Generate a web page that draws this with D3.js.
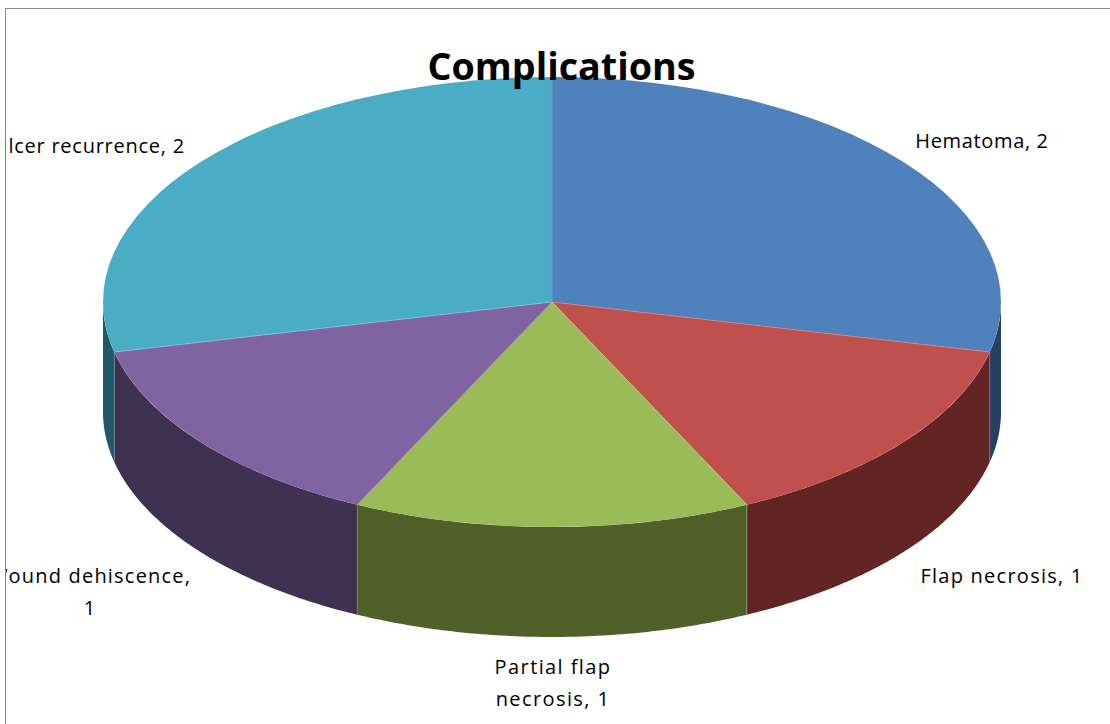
<!DOCTYPE html>
<html><head><meta charset="utf-8">
<script src="https://cdn.jsdelivr.net/npm/d3@7"></script>
<style>html,body{margin:0;background:#fff}svg{display:block}text{font-family:"Open Sans",sans-serif;fill:#000}</style>
</head><body><svg id="c" width="1110" height="724"></svg>
<script>
const categories = ["Hematoma","Flap necrosis","Partial flap necrosis","Wound dehiscence","Ulcer recurrence"];
const values = [2,1,1,1,2];
const topColors = ["#4f81bd","#c0504d","#9bbb59","#8064a2","#4bacc6"];
const sideColors = ["#254061","#632523","#4f6128","#3f3151","#215968"];
const edgeColors = ["#7ba0d0","#d98583","#b9d17f","#a48cc0","#7fc8da"];
const labelLines = [["Hematoma, 2"],["Flap necrosis, 1"],["Partial flap","necrosis, 1"],["Wound dehiscence,","1"],["Ulcer recurrence, 2"]];
const labelAnchor = [[982,148],[1002,583],[553,674],[90,583],[89,153]];
const labelSpacing = [0.65,1.25,1.4,1.2,0.75];
const title = "Complications";

const cx=552, cy=302, rx=449, ry=225, depth=110;
const svg=d3.select("#c");
const pie=d3.pie().sort(null).value(d=>d)(values);
const xs=d3.scaleLinear().domain([-1,1]).range([cx-rx,cx+rx]);
const ys=d3.scaleLinear().domain([-1,1]).range([cy-ry,cy+ry]);
const rim=(a,dy)=>[xs(Math.sin(a)),ys(-Math.cos(a))+dy];
const line=d3.line();

svg.append("clipPath").attr("id","frame").append("rect").attr("x",6).attr("y",8).attr("width",1104).attr("height",716);
const g=svg.append("g").attr("clip-path","url(#frame)");

// side wall: only the part of the rim facing the viewer
const lo=Math.PI/2, hi=3*Math.PI/2;
const walls=pie.map((d,i)=>{
  const a0=Math.max(d.startAngle,lo), a1=Math.min(d.endAngle,hi);
  return a1>a0?{i,a0,a1}:null;}).filter(Boolean);
const order=[...walls].sort((p,q)=>Math.abs((q.a0+q.a1)/2-Math.PI)-Math.abs((p.a0+p.a1)/2-Math.PI));
order.forEach(w=>{
  const ang=d3.range(0,81).map(k=>w.a0+(w.a1-w.a0)*k/80);
  const pts=ang.map(a=>rim(a,0)).concat(ang.slice().reverse().map(a=>rim(a,depth)));
  g.append("path").attr("d",line(pts)+"Z").attr("fill",sideColors[w.i]);
});
// light vertical edges between wall segments
pie.slice(1).forEach((d,k)=>{
  const a=d.startAngle;
  if(a>lo&&a<hi){
    g.append("path").attr("d",line([rim(a,0),rim(a,depth)])).attr("stroke",edgeColors[k+1]).attr("stroke-width",0.4).attr("fill","none");
  }
});
// top face
const arc=d3.arc().innerRadius(0).outerRadius(rx);
const face=g.append("g").attr("transform",`translate(${cx},${cy}) scale(1,${ry/rx})`);
face.selectAll("path").data(pie).join("path").attr("d",arc).attr("fill",(d,i)=>topColors[i]);
// light seams between slices
pie.forEach((d,i)=>{
  g.append("path").attr("d",line([[cx,cy],rim(d.startAngle,0)])).attr("stroke",edgeColors[i]).attr("stroke-width",0.7).attr("fill","none");
});

// labels
labelLines.forEach((ls,i)=>{
  const t=g.append("text").attr("text-anchor","middle").attr("font-size",20).attr("letter-spacing",labelSpacing[i]);
  ls.forEach((s,j)=>t.append("tspan").attr("x",labelAnchor[i][0]).attr("y",labelAnchor[i][1]+j*32).text(s));
});
g.append("text").attr("x",561.5).attr("y",80).attr("text-anchor","middle").attr("font-size",37.7).attr("font-weight",700).text(title);

// frame
svg.append("path").attr("d","M5.5,724V8.5H1110").attr("fill","none").attr("stroke","#868686").attr("stroke-width",1);
</script></body></html>
